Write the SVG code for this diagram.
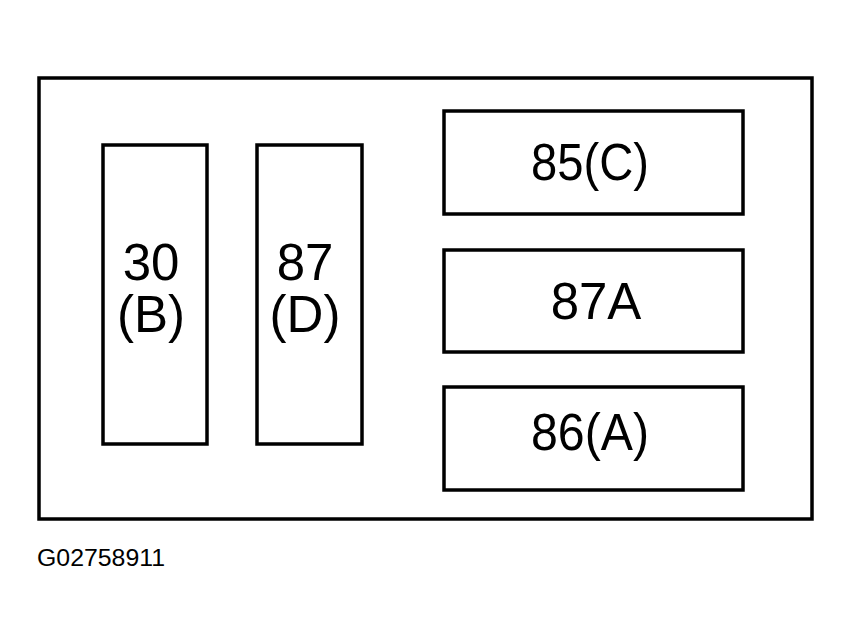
<svg xmlns="http://www.w3.org/2000/svg" width="853" height="642" viewBox="0 0 853 642">
<style>
.box{fill:none;stroke:#000;stroke-width:3.5}
.lbl{font-family:"Liberation Sans",Arial,sans-serif;font-size:51px;fill:#000;text-anchor:middle}
.cap{font-family:"Liberation Sans",Arial,sans-serif;font-size:23px;fill:#000}
</style>
<rect width="853" height="642" fill="#fff"/>
<g id="housing"><rect class="box" x="39" y="78" width="773" height="441"/></g>
<g id="t30"><rect class="box" x="103" y="145" width="104" height="299"/>
<text class="lbl" x="151" y="280">30</text><text class="lbl" x="151" y="332">(B)</text></g>
<g id="t87"><rect class="box" x="257" y="145" width="105" height="299"/>
<text class="lbl" x="305" y="280">87</text><text class="lbl" x="305" y="332">(D)</text></g>
<g id="t85"><rect class="box" x="444" y="111" width="299" height="103"/>
<text class="lbl" x="590" y="180" textLength="118" lengthAdjust="spacingAndGlyphs">85(C)</text></g>
<g id="t87a"><rect class="box" x="444" y="250" width="299" height="102"/>
<text class="lbl" x="596" y="319">87A</text></g>
<g id="t86"><rect class="box" x="444" y="387" width="299" height="103"/>
<text class="lbl" x="590" y="450" textLength="118" lengthAdjust="spacingAndGlyphs">86(A)</text></g>
<g id="connectors"></g>
<text class="cap" x="37" y="566" textLength="128" lengthAdjust="spacingAndGlyphs">G02758911</text>
</svg>
